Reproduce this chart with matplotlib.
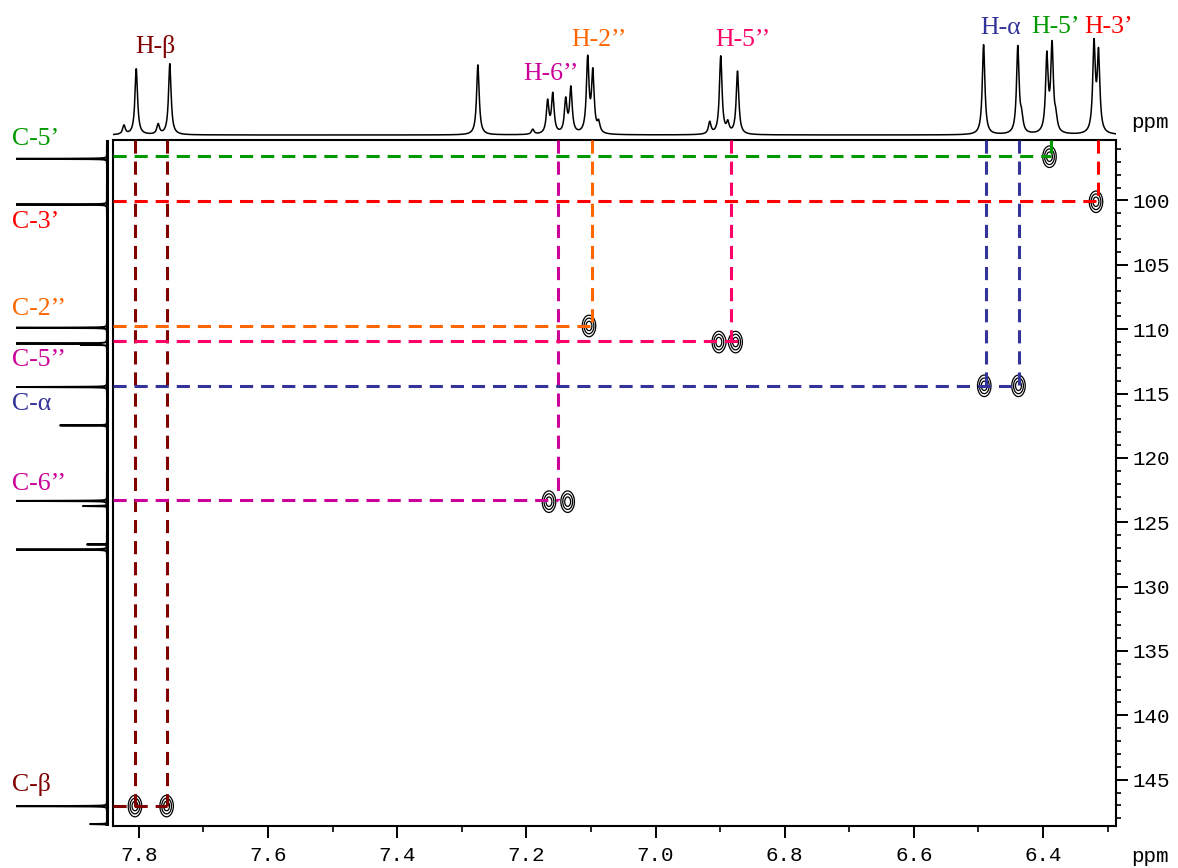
import numpy as np
import matplotlib
matplotlib.use("Agg")
import matplotlib.pyplot as plt
from matplotlib.ticker import MultipleLocator

# ---------------- data ----------------
# 1H projection (top trace): peak positions (ppm) and heights
h1_ppm = [7.823, 7.804, 7.770, 7.752, 7.275, 7.190, 7.167, 7.159, 7.139, 7.131,
          7.105, 7.097, 7.088, 6.916, 6.899, 6.888, 6.873, 6.492, 6.439, 6.433,
          6.394, 6.386, 6.380, 6.321, 6.314]
h1_height = [9, 66, 10, 71, 70, 5, 32, 39, 33, 45,
             74, 60, 10, 12, 78, 10, 63, 90, 87, 14,
             76, 86, 12, 88, 78]

# 13C projection (left trace): peak positions (ppm) and heights
c13_ppm = [96.47, 100.04, 109.67, 110.90, 111.00, 114.30, 117.30, 123.20, 123.60,
           126.60, 127.00, 147.05, 148.45]
c13_height = [95, 95, 95, 95, 25, 95, 47, 95, 24, 20, 95, 95, 17]

# HSQC cross peaks (1H ppm, 13C ppm)
cross_h = [7.806, 7.757, 7.165, 7.136, 7.103, 6.902, 6.876, 6.491, 6.438, 6.390, 6.318]
cross_c = [147.05, 147.05, 123.40, 123.40, 109.75, 111.00, 111.00, 114.40, 114.40, 96.60, 100.10]

# Assignments
assign_h_labels = ["H-β", "H-6’’", "H-2’’", "H-5’’", "H-α", "H-5’", "H-3’"]
assign_c_labels = ["C-β", "C-6’’", "C-2’’", "C-5’’", "C-α", "C-5’", "C-3’"]
assign_h_shift = [[7.806, 7.757], [7.151], [7.098], [6.883], [6.489, 6.437], [6.387], [6.315]]
assign_c_shift = [147.05, 123.30, 109.75, 110.95, 114.40, 96.55, 100.05]
assign_h_end = [7.757, 7.151, 7.098, 6.870, 6.437, 6.387, 6.315]

x_ticks = [7.8, 7.6, 7.4, 7.2, 7.0, 6.8, 6.6, 6.4]
y_ticks = [100, 105, 110, 115, 120, 125, 130, 135, 140, 145]

# ---------------- styles ----------------
line_colors = ["#800000", "#CC0099", "#FF6600", "#FF0066", "#333399", "#009900", "#FF0000"]
c_label_colors = ["#800000", "#CC0099", "#FF6600", "#CC0099", "#333399", "#009900", "#FF0000"]
h_label_pos = [(155, 47), (551, 74), (599, 40), (743, 40), (1001, 28), (1056, 27), (1109, 27)]
c_label_y = [784, 484, 309, 360, 404, 139, 222]

X_LEFT, X_RIGHT = 7.840, 6.287
Y_TOP, Y_BOTTOM = 95.3, 148.6

W, H = 1178, 868
fig = plt.figure(figsize=(W / 100, H / 100), dpi=100)


def rect(l, t, r, b):
    return [l / W, 1 - b / H, (r - l) / W, (b - t) / H]


def lorentz(grid, centers, heights, hw):
    out = np.zeros_like(grid)
    for c, h in zip(centers, heights):
        out += h * hw ** 2 / ((grid - c) ** 2 + hw ** 2)
    return out


serif = "Liberation Serif"
mono = "Liberation Mono"

# ---------------- main HSQC panel ----------------
ax = fig.add_axes(rect(113, 140, 1116, 826))
ax.set_xlim(X_LEFT, X_RIGHT)
ax.set_ylim(Y_BOTTOM, Y_TOP)

gx = np.linspace(X_RIGHT, X_LEFT, 2400)
gy = np.linspace(Y_TOP, Y_BOTTOM, 1400)
GX, GY = np.meshgrid(gx, gy)
Z = np.zeros_like(GX)
for hx, cy in zip(cross_h, cross_c):
    Z += np.exp(-0.5 * (((GX - hx) / 0.006) ** 2 + ((GY - cy) / 0.48) ** 2))
ax.contour(GX, GY, Z, levels=[0.22, 0.45, 0.75], colors="black", linewidths=0.9, zorder=2)

dash = (0, (4.3, 2.6))
for hs, cs, he, col in zip(assign_h_shift, assign_c_shift, assign_h_end, line_colors):
    ax.plot([X_LEFT, he], [cs, cs], color=col, lw=2.2, linestyle=dash, zorder=3,
            dash_capstyle="butt")
    for h in hs:
        ax.plot([h, h], [Y_TOP, cs], color=col, lw=2.2, linestyle=dash, zorder=3,
                dash_capstyle="butt")

ax.yaxis.tick_right()
ax.set_xticks(x_ticks)
ax.set_xticklabels([f"{v:.1f}" for v in x_ticks])
ax.set_yticks(y_ticks)
ax.set_yticklabels([str(v) for v in y_ticks])
ax.xaxis.set_minor_locator(MultipleLocator(0.1))
ax.yaxis.set_minor_locator(MultipleLocator(1))
ax.tick_params(axis="x", which="major", direction="out", length=8.6, width=1.4,
               labelsize=15, pad=6)
ax.tick_params(axis="x", which="minor", direction="out", length=4.3, width=1.2)
ax.tick_params(axis="y", which="major", direction="out", length=8.6, width=1.4,
               labelsize=15, pad=3.5, right=True, left=False)
ax.tick_params(axis="y", which="minor", direction="out", length=3.6, width=1.2,
               right=True, left=False)
for lab in ax.get_xticklabels() + ax.get_yticklabels():
    lab.set_fontfamily(mono)
for s in ax.spines.values():
    s.set_linewidth(1.5)

# ---------------- top 1H projection ----------------
axt = fig.add_axes(rect(113, 20, 1116, 138))
xg = np.linspace(X_RIGHT, X_LEFT, 9000)
axt.plot(xg, lorentz(xg, h1_ppm, h1_height, 0.0024), color="black", lw=1.1)
axt.set_xlim(X_LEFT, X_RIGHT)
axt.set_ylim(-3, 115)
axt.axis("off")

# ---------------- left 13C projection ----------------
axl = fig.add_axes(rect(16, 140, 110, 826))
yg = np.linspace(Y_TOP - 0.3, Y_BOTTOM, 40000)
axl.plot(lorentz(yg, c13_ppm, c13_height, 0.012), yg, color="black", lw=1.4)
axl.plot([0, 0], [Y_TOP - 0.3, Y_BOTTOM], color="black", lw=2.2)
axl.set_xlim(91, -3)
axl.set_ylim(Y_BOTTOM, Y_TOP - 0.3)
axl.axis("off")

# ---------------- labels ----------------
for txt, (px, py), col in zip(assign_h_labels, h_label_pos, line_colors):
    fig.text(px / W, 1 - py / H, txt, color=col, fontsize=18.5, family=serif,
             ha="center", va="center")
for txt, py, col in zip(assign_c_labels, c_label_y, c_label_colors):
    fig.text(12 / W, 1 - py / H, txt, color=col, fontsize=18.5, family=serif,
             ha="left", va="center")

fig.text(1150 / W, 1 - 123 / H, "ppm", fontsize=15, family=mono, ha="center", va="center")
fig.text(1150 / W, 1 - 857 / H, "ppm", fontsize=15, family=mono, ha="center", va="center")

fig.savefig("out.png", dpi=100)
